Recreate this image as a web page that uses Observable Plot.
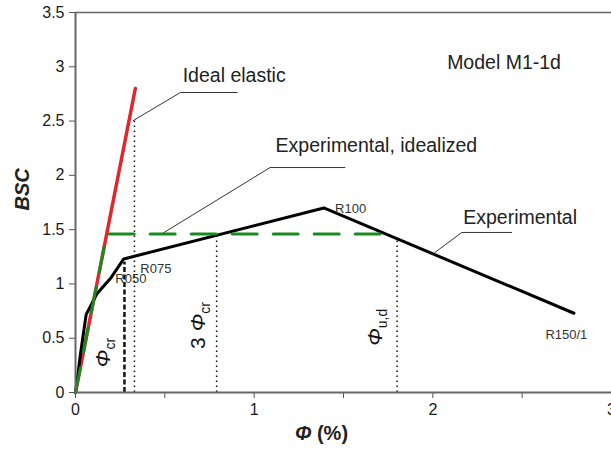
<!DOCTYPE html>
<html>
<head>
<meta charset="utf-8">
<script src="https://cdn.jsdelivr.net/npm/d3@7"></script>
<script src="https://cdn.jsdelivr.net/npm/@observablehq/plot@0.6"></script>
<style>
  html, body { margin: 0; padding: 0; background: #fff; }
  #chart { width: 611px; height: 454px; overflow: hidden; }
  svg { font-family: "Liberation Sans", Arial, sans-serif; }
</style>
</head>
<body>
<div id="chart"></div>
<script>
// Experimental curve
const expPhi = [0, 0.03, 0.06, 0.12, 0.2, 0.27, 1.39, 2.79];
const expBSC = [0, 0.38, 0.72, 0.91, 1.06, 1.23, 1.70, 0.73];
// Ideal elastic
const elasPhi = [0, 0.335];
const elasBSC = [0, 2.8];
// Experimental, idealized
const idealPhi = [0, 0.175, 1.74];
const idealBSC = [0, 1.46, 1.46];
// Vertical reference lines
const dottedPhi = [0.33, 0.79, 1.80];
const dottedTop = [2.5, 1.45, 1.42];
const dashedPhi = [0.274];
const dashedTop = [1.2];
// Tick values
const xTicks = [0, 0.5, 1, 1.5, 2, 2.5, 3];
const yTicks = [0, 0.5, 1, 1.5, 2, 2.5, 3, 3.5];
// Labels
const labelText = ["Model M1-1d", "Ideal elastic", "Experimental, idealized", "Experimental"];
const labelX = [2.08, 0.6, 1.12, 2.17];
const labelY = [3.04, 2.92, 2.275, 1.61];
const pointText = ["R100", "R075", "R050", "R150/1"];
const pointX = [1.453, 0.363, 0.223, 2.63];
const pointY = [1.695, 1.14, 1.05, 0.53];
const rotText = ["Φcr", "3 Φcr", "Φu,d"];
const rotX = [0.156, 0.687, 1.676];
const rotY = [0.368, 0.617, 0.6];
// Leader lines (label connectors)
const leaders = [
  {id: "elastic", phi: [0.324, 0.587, 0.905], bsc: [2.505, 2.763, 2.763]},
  {id: "idealized", phi: [0.486, 1.089, 1.508], bsc: [1.464, 2.072, 2.072]},
  {id: "experimental", phi: [2.011, 2.162, 2.441], bsc: [1.289, 1.474, 1.474]}
];

const toPts = (xs, ys) => xs.map((x, i) => ({x, y: ys[i]}));
const leaderPts = leaders.flatMap(l => l.phi.map((x, i) => ({id: l.id, x, y: l.bsc[i]})));

const chart = Plot.plot({
  width: 611,
  height: 454,
  marginLeft: 75,
  marginRight: 0,
  marginTop: 12,
  marginBottom: 62,
  style: {fontFamily: "'Liberation Sans', Arial, sans-serif", background: "#fff"},
  x: {domain: [0, 3]},
  y: {domain: [0, 3.5]},
  marks: [
    Plot.axisX({ticks: xTicks, tickSize: 6, tickPadding: 5, fontSize: 16, stroke: "#555",
      tickFormat: d => Number.isInteger(d) ? String(d) : "", label: null, color: "#1a1a1a"}),
    Plot.axisY({ticks: yTicks, tickSize: 6, tickPadding: 5, fontSize: 16, stroke: "#555",
      tickFormat: d => String(d), label: null, color: "#1a1a1a"}),
    Plot.ruleY([3.5], {stroke: "#666", strokeWidth: 1.5}),
    // vertical reference lines
    Plot.ruleX(toPts(dottedPhi, dottedTop), {x: "x", y1: 0, y2: "y", stroke: "#111", strokeWidth: 1.5, strokeDasharray: "1.5,3.5"}),
    Plot.ruleX(toPts(dashedPhi, dashedTop), {x: "x", y1: 0, y2: "y", stroke: "#111", strokeWidth: 2.5, strokeDasharray: "5,2.5"}),
    // leaders
    Plot.line(leaderPts, {x: "x", y: "y", z: "id", stroke: "#333", strokeWidth: 1}),
    // curves
    Plot.line(toPts(elasPhi, elasBSC), {x: "x", y: "y", stroke: "#e3262b", strokeWidth: 3.5}),
    Plot.line(toPts(expPhi, expBSC), {x: "x", y: "y", stroke: "#000", strokeWidth: 3}),
    Plot.line(toPts(idealPhi, idealBSC), {x: "x", y: "y", stroke: "#1a8a1f", strokeWidth: 3, strokeDasharray: "25,16"}),
    // axis lines
    Plot.ruleY([0], {stroke: "#666", strokeWidth: 2}),
    Plot.ruleX([0], {stroke: "#666", strokeWidth: 2}),
    // labels
    Plot.text(labelText.map((t, i) => ({t, x: labelX[i], y: labelY[i]})),
      {x: "x", y: "y", text: "t", textAnchor: "start", fontSize: 19.5, fill: "#222"}),
    Plot.text(pointText.map((t, i) => ({t, x: pointX[i], y: pointY[i]})),
      {x: "x", y: "y", text: "t", textAnchor: "start", fontSize: 13, fill: "#333"}),
    Plot.text(rotText.map((t, i) => ({t, x: rotX[i], y: rotY[i]})),
      {x: "x", y: "y", text: "t", rotate: -90, textAnchor: "middle", fontSize: 21, fill: "#111"}),
    // axis titles
    Plot.text(["BSC"], {frameAnchor: "left", dx: -53, dy: 8, rotate: -90, fontSize: 20,
      fontWeight: "bold", fontStyle: "italic", fill: "#222"}),
    Plot.text(["Φ (%)"], {frameAnchor: "bottom", dx: -22, dy: 47, fontSize: 20, fontWeight: "bold", fill: "#222"})
  ]
});

// Subscripts / italics via tspans
d3.select(chart).selectAll("text").each(function() {
  const t = this.textContent;
  const el = d3.select(this);
  if (t === "Φcr") {
    el.text(null);
    el.append("tspan").attr("font-style", "italic").text("Φ");
    el.append("tspan").attr("font-size", 14).attr("dy", 5).text("cr");
  } else if (t === "3 Φcr") {
    el.text(null);
    el.append("tspan").text("3 ");
    el.append("tspan").attr("font-style", "italic").text("Φ");
    el.append("tspan").attr("font-size", 14).attr("dy", 5).text("cr");
  } else if (t === "Φu,d") {
    el.text(null);
    el.append("tspan").attr("font-style", "italic").text("Φ");
    el.append("tspan").attr("font-size", 14).attr("dy", 5).text("u,d");
  } else if (t === "Φ (%)") {
    el.text(null);
    el.append("tspan").attr("font-style", "italic").text("Φ");
    el.append("tspan").text(" (%)");
  }
});

document.getElementById("chart").appendChild(chart);
</script>
</body>
</html>
